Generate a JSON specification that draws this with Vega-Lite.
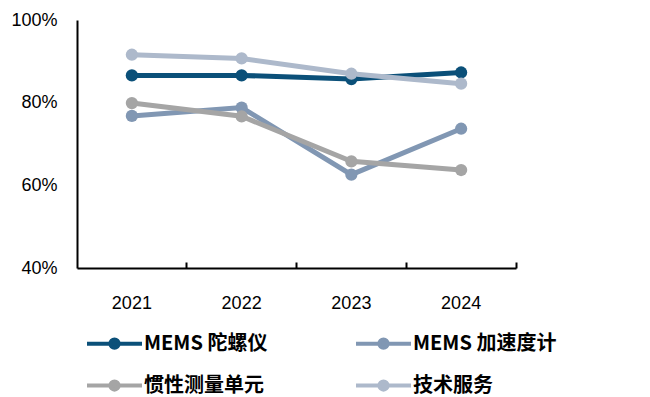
{
  "$schema": "https://vega.github.io/schema/vega-lite/v6.json",
  "width": 439,
  "height": 248,
  "autosize": {"type": "none"},
  "padding": {"left": 77, "top": 20, "right": 134, "bottom": 129},
  "background": "white",
  "config": {
    "view": {"stroke": null},
    "axis": {"grid": false, "domainColor": "#000000", "domainWidth": 2, "tickColor": "#000000", "tickWidth": 2, "labelFont": "Liberation Sans", "labelFontSize": 18, "labelColor": "#000000"}
  },
  "data": {
    "values": [
      {"year": "2021", "series": "MEMS 陀螺仪", "value": 0.866},
      {"year": "2022", "series": "MEMS 陀螺仪", "value": 0.866},
      {"year": "2023", "series": "MEMS 陀螺仪", "value": 0.857},
      {"year": "2024", "series": "MEMS 陀螺仪", "value": 0.873},
      {"year": "2021", "series": "MEMS 加速度计", "value": 0.768},
      {"year": "2022", "series": "MEMS 加速度计", "value": 0.788},
      {"year": "2023", "series": "MEMS 加速度计", "value": 0.626},
      {"year": "2024", "series": "MEMS 加速度计", "value": 0.737},
      {"year": "2021", "series": "惯性测量单元", "value": 0.799},
      {"year": "2022", "series": "惯性测量单元", "value": 0.767},
      {"year": "2023", "series": "惯性测量单元", "value": 0.658},
      {"year": "2024", "series": "惯性测量单元", "value": 0.637},
      {"year": "2021", "series": "技术服务", "value": 0.916},
      {"year": "2022", "series": "技术服务", "value": 0.907},
      {"year": "2023", "series": "技术服务", "value": 0.870},
      {"year": "2024", "series": "技术服务", "value": 0.846}
    ]
  },
  "layer": [
    {
      "mark": {"type": "line", "strokeWidth": 5, "point": {"size": 150, "filled": true, "opacity": 1}},
      "encoding": {
        "x": {"field": "year", "type": "nominal", "title": null, "scale": {"type": "band", "paddingInner": 0, "paddingOuter": 0},
          "axis": {"orient": "bottom", "labelAngle": 0, "tickSize": -6, "bandPosition": 1, "labels": false, "ticks": true, "domain": true}},
        "y": {"field": "value", "type": "quantitative", "title": null, "scale": {"domain": [0.4, 1]},
          "axis": {"values": [0.4, 0.6, 0.8, 1.0], "format": ".0%", "ticks": false, "labelPadding": 20}},
        "color": {"field": "series", "type": "nominal", "sort": ["MEMS 陀螺仪", "MEMS 加速度计", "惯性测量单元", "技术服务"],
          "scale": {"domain": ["MEMS 陀螺仪", "MEMS 加速度计", "惯性测量单元", "技术服务"], "range": ["#0b5079", "#8197b3", "#a5a5a5", "#adb9cb"]},
          "legend": {"title": null, "orient": "none", "direction": "horizontal", "legendX": 8, "legendY": 294, "columns": 2, "columnPadding": 80, "rowPadding": -15,
            "symbolType": "M-1,0H-0.15A0.15,0.15 0 1 1 0.15,0A0.15,0.15 0 1 1 -0.15,0M0.15,0H1", "symbolSize": 3025, "symbolStrokeWidth": 4,
            "labelFont": "Noto Sans CJK SC", "labelFontSize": 20, "labelFontWeight": "bold", "labelColor": "#000000", "labelOffset": 0, "labelLimit": 300}}
      }
    },
    {
      "mark": {"type": "line", "opacity": 0},
      "encoding": {
        "x": {"field": "year", "type": "nominal", "title": null,
          "axis": {"orient": "bottom", "labelAngle": 0, "labelPadding": 26, "ticks": false, "domain": false}},
        "y": {"field": "value", "type": "quantitative"}
      }
    }
  ],
  "resolve": {"axis": {"x": "independent"}}
}
